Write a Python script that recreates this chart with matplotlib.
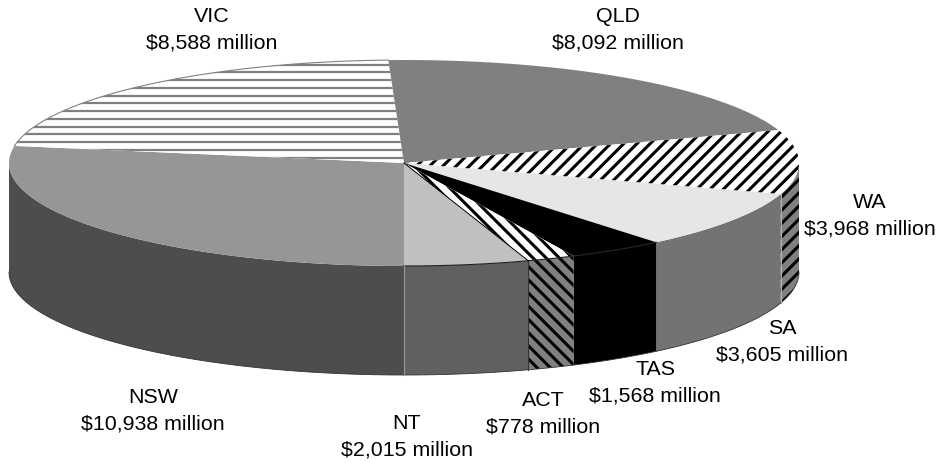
import numpy as np
import matplotlib
matplotlib.use("Agg")
import matplotlib.pyplot as plt
from matplotlib.patches import Polygon

plt.rcParams['font.family'] = ['Liberation Sans', 'DejaVu Sans']

states = ['NSW', 'VIC', 'QLD', 'WA', 'SA', 'TAS', 'ACT', 'NT']
values = [10938, 8588, 8092, 3968, 3605, 1568, 778, 2015]
top_colors = ['#969696', '#ffffff', '#808080', '#ffffff', '#e6e6e6', '#000000', '#ffffff', '#c0c0c0']
side_colors = ['#4d4d4d', '#ffffff', '#606060', '#808080', '#737373', '#000000', '#808080', '#606060']
top_hatch = [None, '-', None, '/', None, None, '\\', None]
side_hatch = [None, None, None, '/', None, None, '\\', None]
label_x = [153, 212, 618, 870, 782, 655, 543, 407]
label_y = [411, 30, 30, 216, 342, 383, 414, 437]

cx, cy, a, b, depth = 404, 164, 395, 103, 109

fig = plt.figure(figsize=(9.39, 4.64), dpi=100)
ax = fig.add_axes([0, 0, 1, 1])
ax.set_xlim(0, 939)
ax.set_ylim(464, 0)
ax.axis('off')


def rim(t):
    # t is degrees clockwise from the front of the pie
    r = np.radians(t)
    return cx - a * np.sin(r), cy + b * np.cos(r)


def arc(t0, t1):
    ts = np.linspace(t0, t1, 80)
    return np.array(rim(ts)).T


def stripes(patch, kind, z):
    if kind == '-':
        for y in np.arange(65.5, 170, 7.75):
            ax.plot([0, 939], [y, y], color='#808080', lw=1.6, clip_path=patch, zorder=z,
                    solid_capstyle='butt')
    else:
        sign = 1 if kind == '/' else -1
        for c in np.arange(-600, 1600, 13.2):
            ax.plot([c, c + 500], [300 + sign * 250, 300 - sign * 250], color='black', lw=2.2,
                    clip_path=patch, zorder=z, solid_capstyle='butt')


edges = np.concatenate([[0], np.cumsum(values)]) / sum(values) * 360

# walls first, only the front half of the pie shows them
for i in range(len(states)):
    t0, t1 = edges[i], edges[i + 1]
    visible = [(t0, min(t1, 90))] if t0 < 90 else []
    if t1 > 270:
        visible.append((max(t0, 270), t1))
    for s0, s1 in visible:
        upper = arc(s0, s1)
        lower = upper[::-1] + [0, depth]
        wall = Polygon(np.vstack([upper, lower]), closed=True, fc=side_colors[i], ec='none', zorder=2)
        ax.add_patch(wall)
        if side_hatch[i]:
            stripes(wall, side_hatch[i], 2.5)
        ax.plot(lower[:, 0], lower[:, 1], color='#333333', lw=0.6, zorder=2.6)

# lids
for i in range(len(states)):
    pts = np.vstack([[cx, cy], arc(edges[i], edges[i + 1])])
    lid = Polygon(pts, closed=True, fc=top_colors[i], ec='none', zorder=3)
    ax.add_patch(lid)
    if top_hatch[i]:
        stripes(lid, top_hatch[i], 4)
    if top_hatch[i] == '-':
        ax.plot(pts[1:, 0], pts[1:, 1], color='#808080', lw=0.8, zorder=4.5)

# rim lines and the light seams between walls
ax.plot(*arc(edges[5], 360).T, color='#222222', lw=0.8, zorder=5)
for t, col in [(0, '#9a9a9a'), (edges[4], '#b0b0b0'), (edges[7], '#333333')]:
    x, y = rim(t)
    ax.plot([x, x], [y, y + depth], color=col, lw=0.8, zorder=5)
x, y = rim(edges[7])
ax.plot([cx, x], [cy, y], color='black', lw=0.7, zorder=5)

for name, v, x, y in zip(states, values, label_x, label_y):
    ax.text(x, y, f'{name}\n${v:,} million', ha='center', va='center', fontsize=15.4,
            linespacing=1.48, color='black', zorder=6)

fig.savefig('out.png', dpi=100, facecolor='white')
